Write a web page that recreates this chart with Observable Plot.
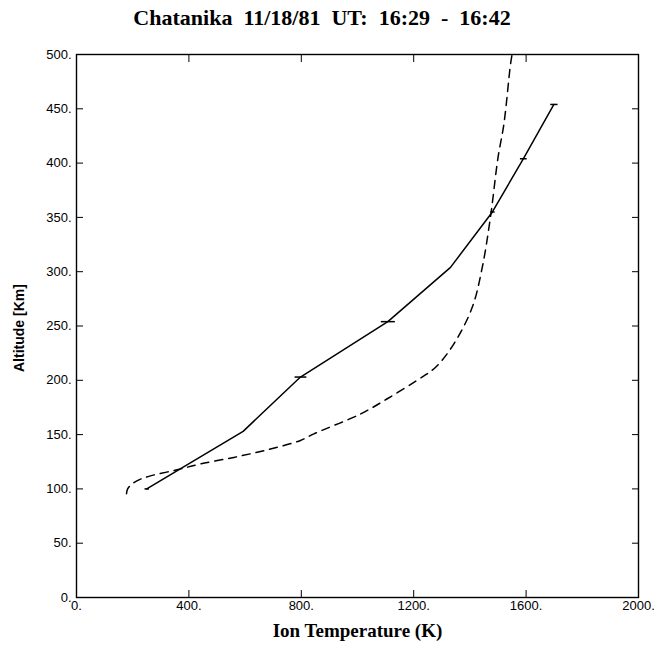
<!DOCTYPE html>
<html><head><meta charset="utf-8">
<script src="https://cdn.jsdelivr.net/npm/d3@7"></script>
<script src="https://cdn.jsdelivr.net/npm/@observablehq/plot@0.6"></script>
<style>
body{margin:0;background:#fff;}
#title{height:36px;width:658px;font:bold 22px "Liberation Serif","Times New Roman",serif;white-space:pre;text-align:center;line-height:36px;padding-right:14px;box-sizing:border-box;color:#000;}
#chart svg{display:block;}
</style></head><body>
<div id="title">Chatanika  11/18/81  UT:  16:29  -  16:42</div>
<div id="chart"></div>
<script>
// Measured ion temperature profile (solid line)
const measuredAlt  = [100, 153, 203, 254, 304, 355, 404, 454];
const measuredTemp = [250, 593, 797, 1108, 1331, 1480, 1590, 1699];
const measuredErr  = [8, 0, 21, 25, 0, 8, 12, 13];

// Model ion temperature profile (dashed line)
const modelTemp = [178, 182, 198, 228, 263, 358, 441, 560, 679, 797, 845, 1011, 1106, 1212, 1278, 1343, 1408, 1444, 1473, 1500, 1521, 1544, 1550];
const modelAlt  = [95.5, 100, 104.6, 109, 112, 117.6, 123, 129, 136, 144.6, 150.7, 169, 183, 200, 212, 233.6, 267, 304, 350, 405, 436, 490, 500];

// Axis ticks
const xTicks = [0, 400, 800, 1200, 1600, 2000];
const yTicks = [0, 50, 100, 150, 200, 250, 300, 350, 400, 450, 500];

const measured = measuredAlt.map((a, i) => ({alt: a, temp: measuredTemp[i], err: measuredErr[i]}));
const model = modelAlt.map((a, i) => ({alt: a, temp: modelTemp[i]}));
const bars = measured.filter(d => d.err > 0);

const tickFont = {fontFamily: "'Liberation Sans', Arial, sans-serif", fontSize: 13};

const chart = Plot.plot({
  width: 658,
  height: 611,
  marginTop: 18,
  marginBottom: 50,
  marginLeft: 76,
  marginRight: 20,
  style: {background: "#fff", color: "#000", fontFamily: "'Liberation Sans', Arial, sans-serif", fontSize: "13px"},
  x: {domain: [0, 2000]},
  y: {domain: [0, 500]},
  marks: [
    Plot.frame({stroke: "#000", strokeWidth: 1.4}),
    Plot.axisX({anchor: "bottom", ticks: xTicks, tickSize: 7, insetBottom: 7, tickPadding: 3, tickFormat: d => d + ".", label: null, ...tickFont}),
    Plot.axisX({anchor: "top", ticks: xTicks, tickSize: 7, insetTop: 7, fill: "none", label: null}),
    Plot.axisY({anchor: "left", ticks: yTicks, tickSize: 7, insetLeft: 7, tickPadding: 5, tickFormat: d => d + ".", label: null, ...tickFont}),
    Plot.axisY({anchor: "right", ticks: yTicks, tickSize: 7, insetRight: 7, fill: "none", label: null}),
    Plot.line(model, {x: "temp", y: "alt", stroke: "#000", strokeWidth: 1.5, strokeDasharray: "8,6", curve: "catmull-rom"}),
    Plot.line(measured, {x: "temp", y: "alt", stroke: "#000", strokeWidth: 1.5}),
    Plot.link(bars, {x1: d => d.temp - d.err, x2: d => d.temp + d.err, y1: "alt", y2: "alt", stroke: "#000", strokeWidth: 1.5}),
    Plot.text(["Ion Temperature (K)"], {text: d => d, frameAnchor: "bottom", dy: 39, fontSize: 19, fontWeight: "bold", fontFamily: "'Liberation Serif', 'Times New Roman', serif"}),
    Plot.text(["Altitude [Km]"], {text: d => d, frameAnchor: "left", rotate: -90, dx: -57, dy: 46, fontSize: 14, fontWeight: "bold", fontFamily: "'Liberation Sans', Arial, sans-serif"})
  ]
});
document.getElementById("chart").appendChild(chart);
</script>
</body></html>
